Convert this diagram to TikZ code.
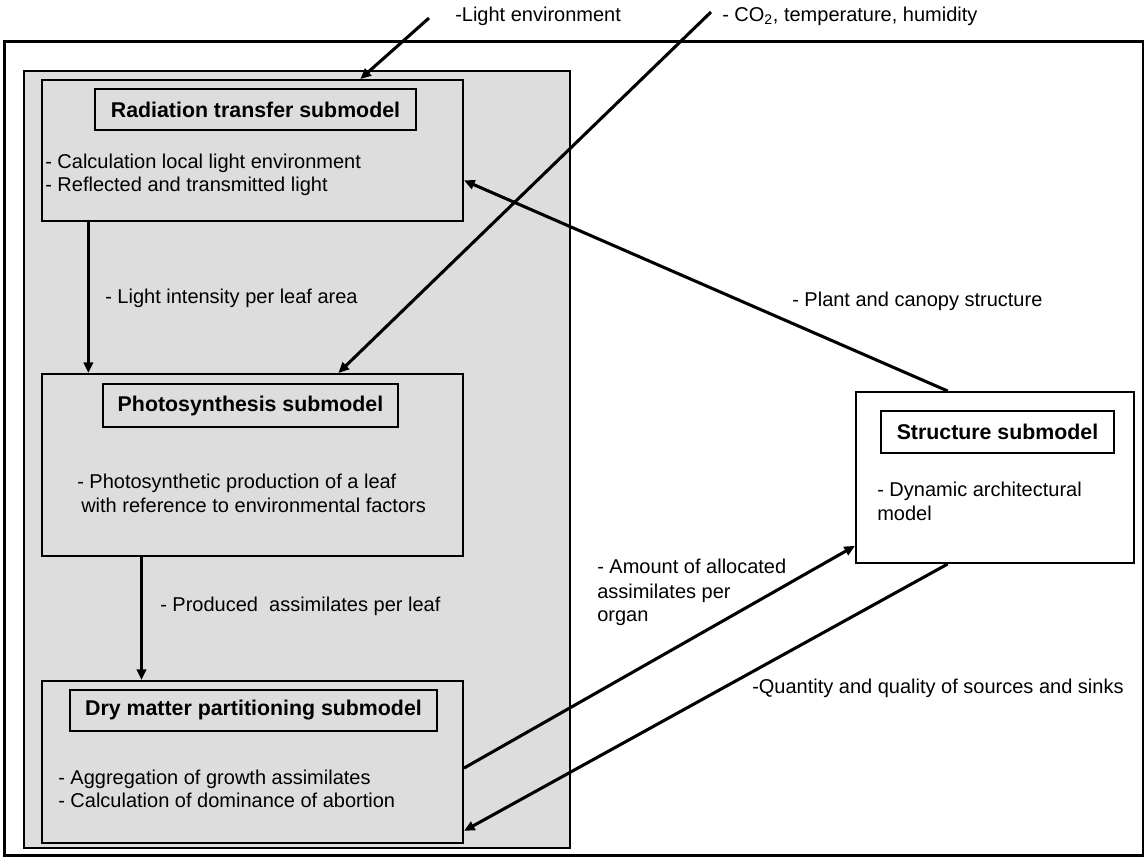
\documentclass[tikz,border=0pt]{standalone}
\usepackage{fontspec}
\setmainfont{Liberation Sans}
\usetikzlibrary{fit,calc,arrows.meta}
\definecolor{panelgray}{RGB}{221,221,221}
\begin{document}
\begin{tikzpicture}[x=0.75pt,y=-0.75pt,
  frame/.style={draw=black, line width=2.2pt, inner sep=0pt},
  panel/.style={draw=black, line width=1.5pt, fill=panelgray, inner sep=0pt},
  box/.style={draw=black, line width=1.5pt, inner sep=0pt},
  ttl/.style={font=\fontsize{16pt}{19pt}\selectfont\bfseries, inner sep=0pt},
  txt/.style={font=\fontsize{15pt}{18pt}\selectfont, anchor=base west, inner sep=0pt},
  arr/.style={draw=black, line width=2.3pt, -{Triangle[length=8pt,width=7pt]}},
]
\useasboundingbox (0,0) rectangle (1146,858);
\fill[white] (0,0) rectangle (1146,858);

% frames
\node[frame, fit={(4.5,41.5) (1143,855.5)}] (outer) {};
\node[panel, fit={(24,71) (570,848)}] (panel) {};

% radiation transfer
\node[box, fill=panelgray, fit={(42,80) (463,221)}] (rad) {};
\node[box, fit={(95,89) (416,130)}] (radT) {};
\node[ttl] (radTt) at (radT) {Radiation transfer submodel};
\node[txt] (rad1) at (45,168) {- Calculation local light environment};
\node[txt] (rad2) at (45,191) {- Reflected and transmitted light};

% photosynthesis
\node[box, fill=panelgray, fit={(42,374) (463,556)}] (photo) {};
\node[box, fit={(103,384) (398,427)}] (photoT) {};
\node[ttl] (photoTt) at (photoT) {Photosynthesis submodel};
\node[txt] (photo1) at (77,488) {- Photosynthetic production of a leaf};
\node[txt] (photo2) at (81,512) {with reference to environmental factors};

% dry matter
\node[box, fill=panelgray, fit={(42,681) (463,843)}] (dry) {};
\node[box, fit={(70,690) (437,731)}] (dryT) {};
\node[ttl] (dryTt) at (dryT) {Dry matter partitioning submodel};
\node[txt] (dry1) at (58,784) {- Aggregation of growth assimilates};
\node[txt] (dry2) at (58,807) {- Calculation of dominance of abortion};

% structure
\node[box, fill=white, fit={(856,392) (1134,563)}] (struct) {};
\node[box, fit={(881,411) (1114,453)}] (structT) {};
\node[ttl] (structTt) at (structT) {Structure submodel};
\node[txt] (struct1) at (877,496) {- Dynamic architectural};
\node[txt] (struct2) at (877,520) {model};

% labels
\node[txt] (lLight) at (455,21) {-Light environment};
\node[txt] (lCO2) at (722,21) {- CO\textsubscript{2}, temperature, humidity};
\node[txt] (lInt) at (105,303) {- Light intensity per leaf area};
\node[txt] (lProd) at (160,611) {- Produced\ \ assimilates per leaf};
\node[txt] (lPlant) at (792,306) {- Plant and canopy structure};
\node[txt] (lAm1) at (597,573) {- Amount of allocated};
\node[txt] (lAm2) at (597,598) {assimilates per};
\node[txt] (lAm3) at (597,621) {organ};
\node[txt] (lQual) at (752,693) {-Quantity and quality of sources and sinks};

% connectors
\coordinate (lightsrc) at (429,18);
\coordinate (co2src) at (711,12);
\draw[arr] (lightsrc) -- ($(rad.north west)!0.755!(rad.north east)$);
\draw[arr] (co2src) -- ($(photo.north west)!0.703!(photo.north east)$);
\draw[arr] ($(rad.south west)!0.112!(rad.south east)$) -- ($(photo.north west)!0.112!(photo.north east)$);
\draw[arr] ($(photo.south west)!0.2375!(photo.south east)$) -- ($(dry.north west)!0.2375!(dry.north east)$);
\draw[arr] ($(struct.north west)!0.331!(struct.north east)$) -- ($(rad.north east)!0.709!(rad.south east)$);
\draw[arr] ($(dry.north east)!0.537!(dry.south east)$) -- ($(struct.north west)!0.895!(struct.south west)$);
\draw[arr] ($(struct.south west)!0.331!(struct.south east)$) -- ($(dry.north east)!0.92!(dry.south east)$);
\end{tikzpicture}
\end{document}
